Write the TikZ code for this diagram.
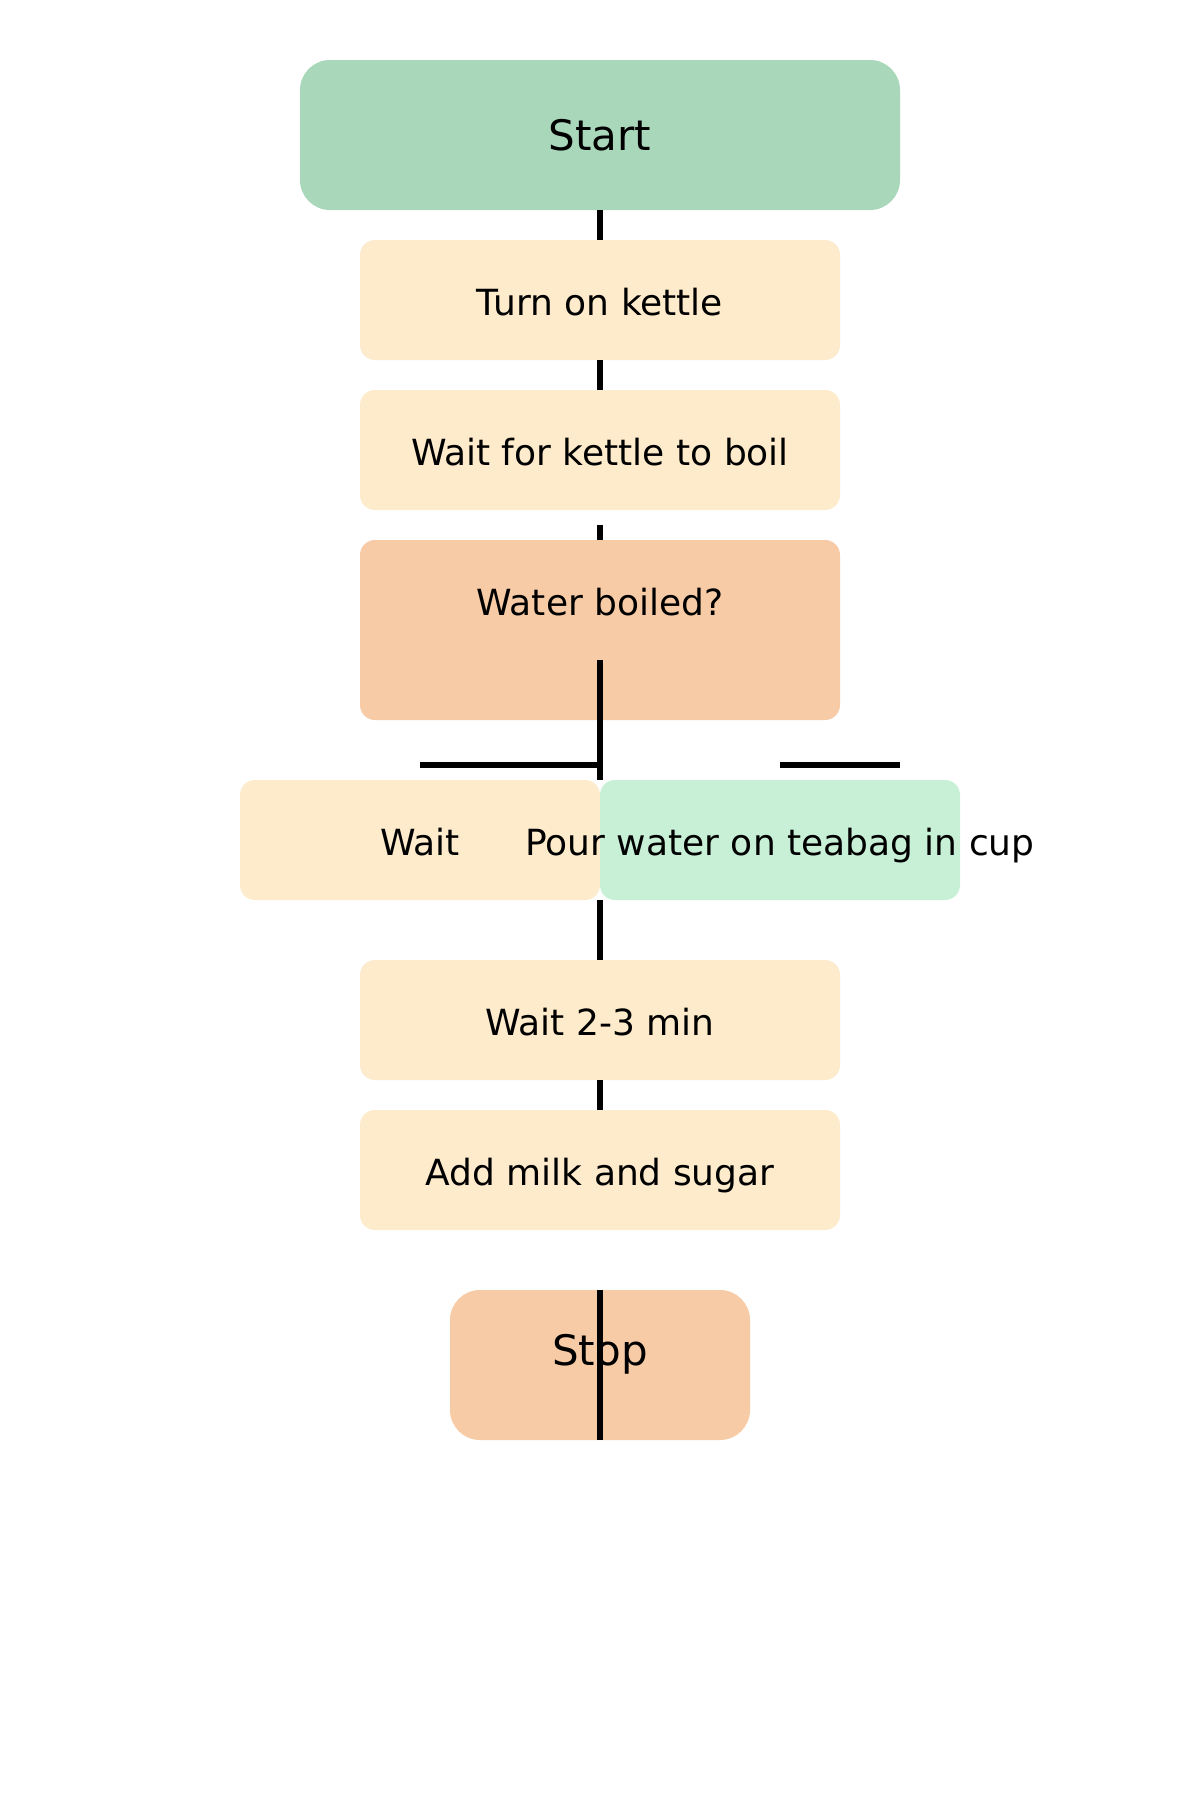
\documentclass[tikz,border=0pt]{standalone}
\usepackage{fontspec}
\setmainfont{DejaVu Sans}
\definecolor{startgreen}{HTML}{A9D7BA}
\definecolor{cream}{HTML}{FDEBCB}
\definecolor{peach}{HTML}{F7CBA6}
\definecolor{mint}{HTML}{C7F0D7}
\begin{document}
\begin{tikzpicture}[x=1pt,y=-1pt,
  box/.style={rectangle, draw=none, inner sep=0pt, outer sep=0pt, rounded corners=15pt},
  term/.style={box, rounded corners=30pt},
  lbl/.style={anchor=base, inner sep=0pt, outer sep=0pt, font=\fontsize{36}{43}\selectfont},
  tlbl/.style={lbl, font=\fontsize{42}{50}\selectfont},
  conn/.style={line width=5.5pt, black}]
\useasboundingbox (0,0) rectangle (1200,1800);
\fill[white] (0,0) rectangle (1200,1800);
% boxes
\node[term, fill=startgreen, minimum width=600pt, minimum height=150pt] (start) at (600,135) {};
\node[box, fill=cream, minimum width=480pt, minimum height=120pt] (turn) at (600,300) {};
\node[box, fill=cream, minimum width=480pt, minimum height=120pt] (kwait) at (600,450) {};
\node[box, fill=peach, minimum width=480pt, minimum height=180pt] (boiled) at (600,630) {};
\node[box, fill=cream, minimum width=360pt, minimum height=120pt] (wait) at (420,840) {};
\node[box, fill=mint, minimum width=360pt, minimum height=120pt] (pour) at (780,840) {};
\node[box, fill=cream, minimum width=480pt, minimum height=120pt] (steep) at (600,1020) {};
\node[box, fill=cream, minimum width=480pt, minimum height=120pt] (milk) at (600,1170) {};
\node[term, fill=peach, minimum width=300pt, minimum height=150pt] (stop) at (600,1365) {};
% labels
\node[tlbl] (tstart) at (600,150) {Start};
\node[lbl] (tturn) at (600,315) {Turn on kettle};
\node[lbl] (tkwait) at (600,465) {Wait for kettle to boil};
\node[lbl] (tboiled) at (600,615) {Water boiled?};
\node[lbl] (twait) at (420,855) {Wait};
\node[lbl] (tpour) at (780,855) {Pour water on teabag in cup};
\node[lbl] (tsteep) at (600,1035) {Wait 2-3 min};
\node[lbl] (tmilk) at (600,1185) {Add milk and sugar};
\node[tlbl] (tstop) at (600,1365) {Stop};
% free ends
\coordinate (kwaitend) at (600,525);
\coordinate (split) at (600,660);
\coordinate (join) at (600,765);
\coordinate (lefttick) at (420,765);
\coordinate (rt1) at (780,765);
\coordinate (rt2) at (900,765);
% connectors
\draw[conn] (start.south) -- (turn.north);
\draw[conn] (turn.south) -- (kwait.north);
\draw[conn] (kwaitend) -- (boiled.north);
\draw[conn] (lefttick) -- (join);
\draw[conn] (rt1) -- (rt2);
\draw[conn] (split) -- (wait.north east);
\draw[conn] (wait.south east) -- (steep.north);
\draw[conn] (steep.south) -- (milk.north);
\draw[conn] (stop.north) -- (stop.south);
\end{tikzpicture}
\end{document}
